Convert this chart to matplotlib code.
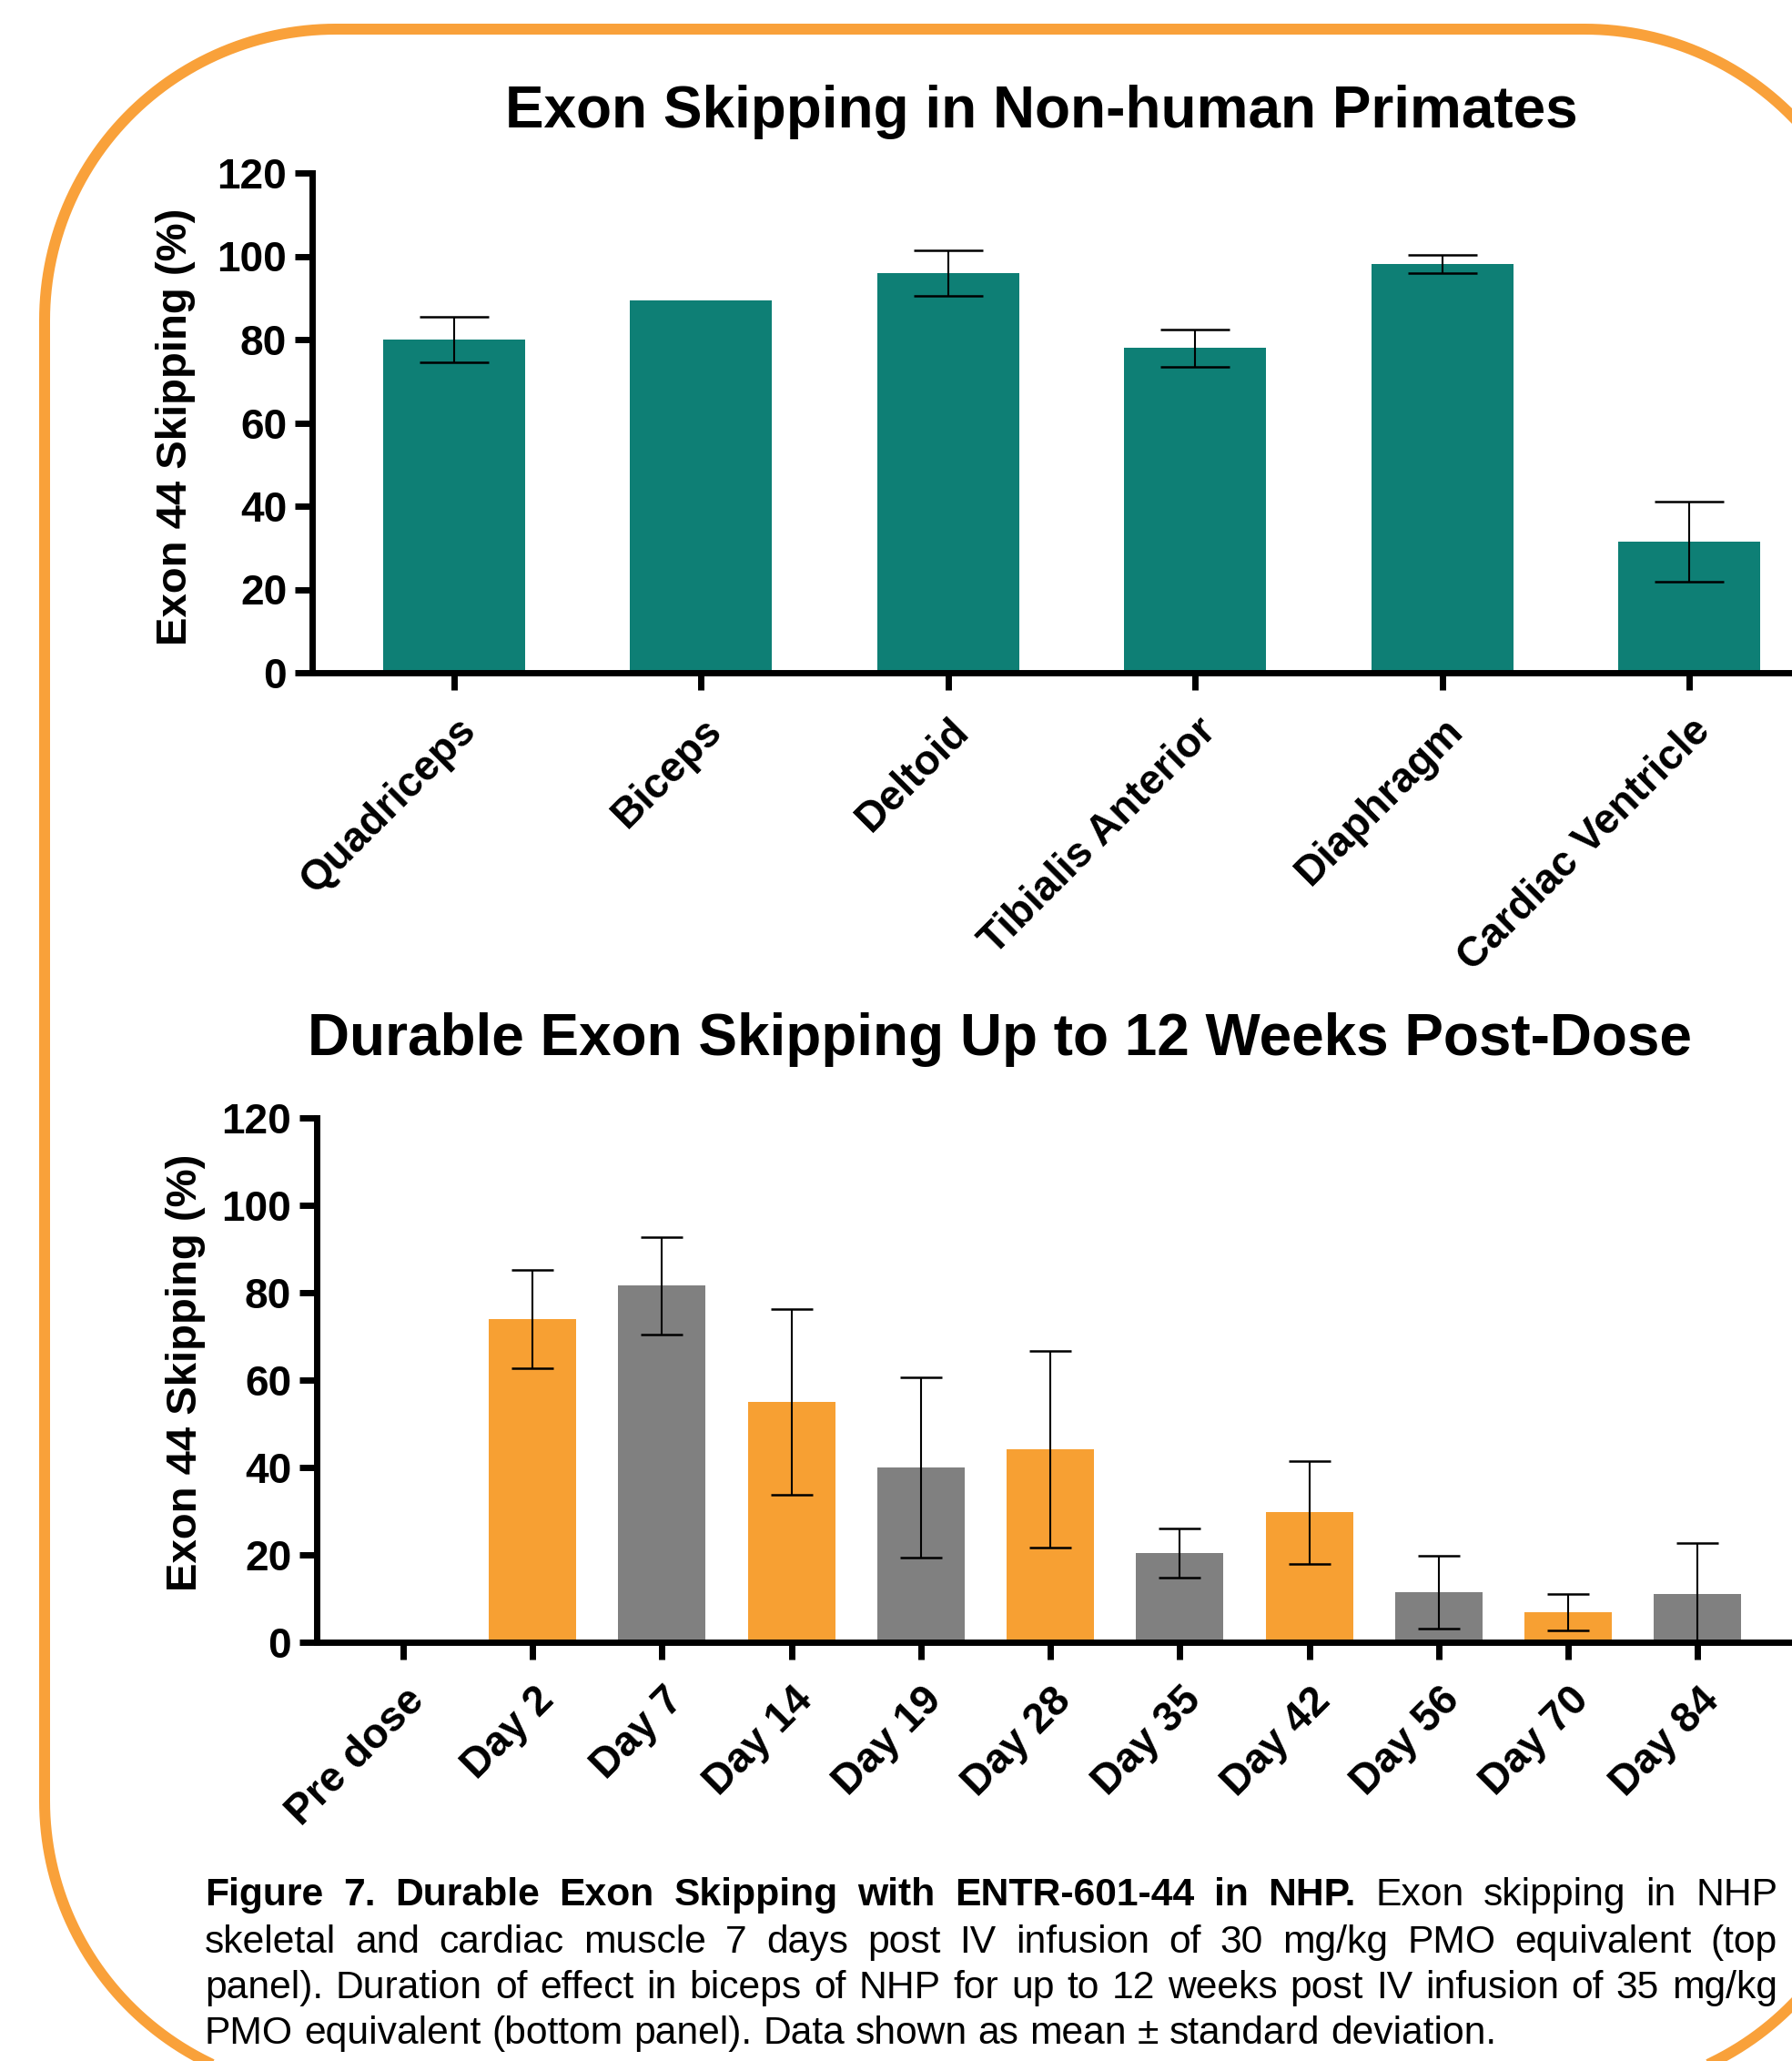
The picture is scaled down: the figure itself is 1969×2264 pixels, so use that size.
import matplotlib
matplotlib.use("Agg")
import matplotlib.pyplot as plt
from matplotlib.transforms import ScaledTranslation
import numpy as np

# fuentes: Liberation Sans = metrica de Arial
plt.rcParams['font.family'] = ['Liberation Sans', 'DejaVu Sans']

W, H = 1969, 2264
DPI = 100

TEAL = '#0E7F75'
ORANGE = '#F7A033'
GREY = '#808080'
BORDER = '#F9A13A'

# ---- datos panel superior ----
muscles = ["Quadriceps", "Biceps", "Deltoid", "Tibialis Anterior", "Diaphragm", "Cardiac Ventricle"]
muscle_mean = [80.0, 89.5, 96.0, 78.0, 98.2, 31.4]
muscle_sd = [5.5, np.nan, 5.5, 4.5, 2.2, 9.6]

# ---- datos panel inferior ----
days = ["Pre dose", "Day 2", "Day 7", "Day 14", "Day 19", "Day 28",
        "Day 35", "Day 42", "Day 56", "Day 70", "Day 84"]
day_mean = [0.0, 74.0, 81.6, 55.0, 40.0, 44.1, 20.4, 29.7, 11.4, 6.9, 11.1]
day_sd = [np.nan, 11.3, 11.1, 21.3, 20.7, 22.5, 5.7, 11.8, 8.3, 4.2, 11.7]
day_colors = [ORANGE, ORANGE, GREY, ORANGE, GREY, ORANGE, GREY, ORANGE, GREY, ORANGE, GREY]

yticks = [0, 20, 40, 60, 80, 100, 120]

title_top = "Exon Skipping in Non-human Primates"
title_bottom = "Durable Exon Skipping Up to 12 Weeks Post-Dose"
ylabel = "Exon 44 Skipping (%)"

caption_lines = [
    [("Figure 7. Durable Exon Skipping with ENTR-601-44 in NHP.", "bold"), ("Exon skipping in NHP", "normal")],
    [("skeletal and cardiac muscle 7 days post IV infusion of 30 mg/kg PMO equivalent (top", "normal")],
    [("panel). Duration of effect in biceps of NHP for up to 12 weeks post IV infusion of 35 mg/kg", "normal")],
    [("PMO equivalent (bottom panel). Data shown as mean \u00b1 standard deviation.", "normal")],
]

fig = plt.figure(figsize=(W / DPI, H / DPI), dpi=DPI)

# eje de fondo en pixeles (borde, titulos, leyenda); y medido desde arriba
bg = fig.add_axes([0, 0, 1, 1], zorder=0)
bg.set_xlim(0, W)
bg.set_ylim(0, H)
bg.axis('off')


def Y(y):
    return H - y


# borde naranja redondeado (sale del lienzo por la derecha y por abajo)
bx0, bx1, by_top, by_bot, R = 49, 2061, Y(32), Y(2298), 320
corners = [((bx1 - R, by_top - R), 0), ((bx0 + R, by_top - R), 90),
           ((bx0 + R, by_bot + R), 180), ((bx1 - R, by_bot + R), 270)]
xs, ys = [], []
for (cx, cy), a0 in corners:
    t = np.radians(np.linspace(a0, a0 + 90, 60))
    xs.extend(cx + R * np.cos(t))
    ys.extend(cy + R * np.sin(t))
xs.append(xs[0])
ys.append(ys[0])
bg.plot(xs, ys, color=BORDER, lw=12 * 72 / DPI, clip_on=False)


def px_axes(left, top, right, bottom):
    return fig.add_axes([left / W, 1 - bottom / H, (right - left) / W, (bottom - top) / H], zorder=1)


def style(ax, labels, xlim):
    ax.set_facecolor('none')
    ax.spines['top'].set_visible(False)
    ax.spines['right'].set_visible(False)
    ax.spines['left'].set_linewidth(5)
    ax.spines['bottom'].set_linewidth(5)
    ax.tick_params(axis='both', width=5, length=14, color='black')
    ax.tick_params(axis='y', pad=6)
    ax.tick_params(axis='x', pad=16)
    ax.set_ylim(0, 120)
    ax.set_xlim(*xlim)
    ax.set_yticks(yticks)
    ax.set_yticklabels([str(t) for t in yticks], fontsize=33, fontweight='bold')
    ax.set_xticks(range(len(labels)))
    ax.set_xticklabels(labels, fontsize=33, fontweight='bold', rotation=45,
                       ha='right', va='top', rotation_mode='anchor')
    off = ScaledTranslation(1 / DPI, 0, fig.dpi_scale_trans)
    for lbl in ax.get_xticklabels():
        lbl.set_transform(lbl.get_transform() + off)


# panel superior
ax1 = px_axes(343, 190, 1969, 739)
x1 = np.arange(len(muscles))
ax1.bar(x1, muscle_mean, width=0.575, color=TEAL)
ax1.errorbar(x1, muscle_mean, yerr=muscle_sd, fmt='none', ecolor='black',
             elinewidth=1.5, capsize=27.7, capthick=1.8, zorder=3)
style(ax1, muscles, (-0.575, 5.416))

# panel inferior
ax2 = px_axes(348, 1228, 1969, 1804)
x2 = np.arange(len(days))
ax2.bar(x2, day_mean, width=0.675, color=day_colors)
ax2.errorbar(x2, day_mean, yerr=day_sd, fmt='none', ecolor='black',
             elinewidth=1.5, capsize=16.9, capthick=1.8, zorder=3)
style(ax2, days, (-0.668, 10.73))

# titulos y etiquetas de eje
bg.text(1144, Y(140), title_top, ha='center', va='baseline', fontsize=46, fontweight='bold')
bg.text(1098, Y(1159), title_bottom, ha='center', va='baseline', fontsize=46, fontweight='bold')
bg.text(193, Y(469), ylabel, rotation=90, ha='center', va='center', fontsize=34, fontweight='bold')
bg.text(204, Y(1508), ylabel, rotation=90, ha='center', va='center', fontsize=34, fontweight='bold')

# leyenda justificada
cap_left, cap_right = 225, 1953
cap_base = [2093, 2145, 2195, 2245]
cap_size = 30.7
renderer = fig.canvas.get_renderer()

sp = bg.text(0, 0, "a a", fontsize=cap_size)
sp2 = bg.text(0, 0, "aa", fontsize=cap_size)
space_w = sp.get_window_extent(renderer).width - sp2.get_window_extent(renderer).width
sp.remove()
sp2.remove()

for i, line in enumerate(caption_lines):
    words = [(w, wt) for seg, wt in line for w in seg.split()]
    texts = [bg.text(0, Y(cap_base[i]), w, fontsize=cap_size, fontweight=wt,
                     ha='left', va='baseline') for w, wt in words]
    widths = [t.get_window_extent(renderer).width for t in texts]
    if i < len(caption_lines) - 1:
        gap = (cap_right - cap_left - sum(widths)) / (len(words) - 1)
    else:
        gap = space_w
    xpos = cap_left
    for t, wd in zip(texts, widths):
        t.set_x(xpos)
        xpos += wd + gap

fig.savefig("out.png", dpi=DPI)
